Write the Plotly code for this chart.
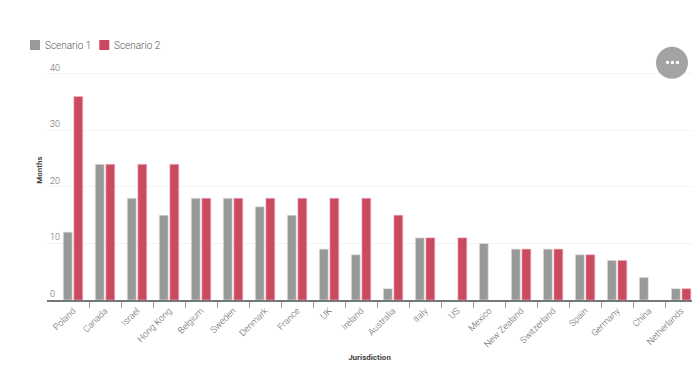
import plotly.graph_objects as go

categories = ["Poland","Canada","Israel","Hong Kong","Belgium","Sweden","Denmark","France","UK","Ireland",
              "Australia","Italy","US","Mexico","New Zealand","Switzerland","Spain","Germany","China","Netherlands"]
scenario1 = [12,24,18,15,18,18,16.5,15,9,8,2,11,None,10,9,9,8,7,4,2]
scenario2 = [36,24,24,24,18,18,18,18,18,18,15,11,11,None,9,9,8,7,None,2]
y_ticks = [0,10,20,30,40]
series_names = ["Scenario 1", "Scenario 2"]
series_colors = ["#999999", "#cb4a61"]

FONT = "Roboto"
W, H = 692, 370
L, T, B = 47, 40, 70

def px(x):
    return (x - L) / (W - L)

def py(y):
    return (H - B - y) / (H - T - B)

fig = go.Figure()
fig.add_bar(name=series_names[0], x=categories, y=scenario1, marker=dict(color=series_colors[0], line=dict(color="#e4e4e4", width=0.6)))
fig.add_bar(name=series_names[1], x=categories, y=scenario2, marker=dict(color=series_colors[1], line=dict(color="#eeb4c0", width=0.6)))

shapes = [dict(type="circle", xref="paper", yref="paper", layer="above",
               x0=px(656), x1=px(688), y0=py(78.7), y1=py(46.7),
               fillcolor="#a3a3a3", line=dict(width=0))]
for cx in (667.5, 672.5, 677.5):
    shapes.append(dict(type="circle", xref="paper", yref="paper", layer="above",
                       x0=px(cx-1.7), x1=px(cx+1.7), y0=py(62.5+1.7), y1=py(62.5-1.7),
                       fillcolor="white", line=dict(width=0)))
annotations = []
for name, color, sx, tx in zip(series_names, series_colors, (30, 99.3), (44.7, 114)):
    shapes.append(dict(type="rect", xref="paper", yref="paper", layer="above",
                       x0=px(sx), x1=px(sx+10), y0=py(50), y1=py(40),
                       fillcolor=color, line=dict(width=0)))
    annotations.append(dict(text=name, xref="paper", yref="paper", x=px(tx), y=py(45), xanchor="left",
                            yanchor="middle", showarrow=False, borderpad=0, borderwidth=0,
                            font=dict(size=10, color="#555555", family=FONT, weight=300)))

fig.update_layout(
    width=W, height=H, autosize=False,
    margin=dict(l=L, r=0, t=T, b=B),
    paper_bgcolor="white", plot_bgcolor="white",
    barmode="group", bargap=0.34, bargroupgap=0.16, showlegend=False,
    font=dict(family=FONT, size=9, color="#555555"),
    xaxis=dict(type="category", range=[-0.8125, 19.34], tickson="boundaries", ticks="outside", ticklen=6,
               tickcolor="#999999", tickwidth=1, showline=True, linecolor="#777777", linewidth=2,
               tickangle=-45, showgrid=False, tickfont=dict(size=9, color="#666666", weight=300),
               automargin=False,
               title=dict(text="<b>Jurisdiction</b>", font=dict(size=8, color="#444444"), standoff=6)),
    yaxis=dict(range=[0, 46], tickvals=y_ticks, ticklabelposition="inside top", showgrid=True,
               gridcolor="#f3f3f3", gridwidth=1, zeroline=False, showline=False, ticks="",
               tickfont=dict(size=9, color="#666666", weight=300), automargin=False,
               title=dict(text="<b>Months</b>", font=dict(size=8, color="#444444"), standoff=6)),
    shapes=shapes,
    annotations=annotations,
)
fig.write_html("out.html", config=dict(displayModeBar=False),
               post_script="document.body.style.margin='0';document.body.style.overflow='hidden';")
